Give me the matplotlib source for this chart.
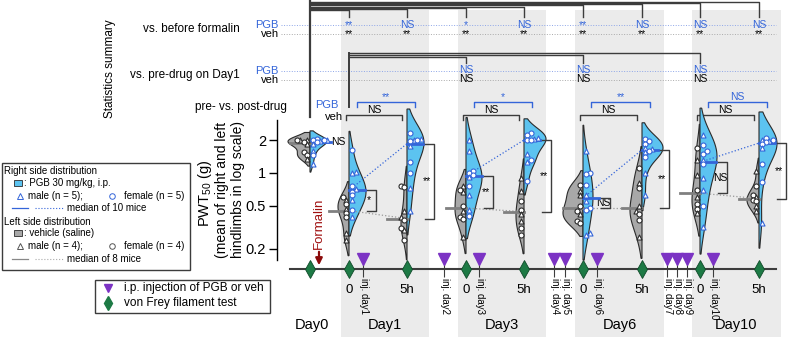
import matplotlib.pyplot as plt
from matplotlib.patches import Rectangle
import numpy as np

plt.rcParams['font.family'] = ['Liberation Sans', 'DejaVu Sans']
plt.rcParams['mathtext.default'] = 'regular'

# ---- data (PWT50 in g) ----
slots = ['Day0', 'Day1 0', 'Day1 5h', 'Day3 0', 'Day3 5h',
         'Day6 0', 'Day6 5h', 'Day10 0', 'Day10 5h']
time_labels = ['', '0', '5h', '0', '5h', '0', '5h', '0', '5h']
days = ['Day1', 'Day3', 'Day6', 'Day10']
day_pairs = [(1, 2), (3, 4), (5, 6), (7, 8)]

pgb = [
    [2.05, 2.0, 2.0, 2.0, 1.95, 1.9, 1.85, 1.6, 1.45, 1.2],
    [1.62, 1.02, 1.0, 0.76, 0.71, 0.67, 0.62, 0.56, 0.46, 0.39],
    [2.3, 2.05, 2.0, 2.0, 1.95, 1.75, 1.25, 1.0, 0.72, 0.45],
    [2.0, 1.6, 1.05, 1.0, 0.95, 0.92, 0.75, 0.62, 0.46, 0.4],
    [2.3, 2.2, 2.1, 2.05, 2.0, 2.0, 1.5, 1.3, 1.25, 0.85],
    [1.6, 1.0, 0.98, 0.78, 0.62, 0.55, 0.48, 0.46, 0.28, 0.27],
    [2.05, 1.95, 1.85, 1.7, 1.65, 1.6, 1.55, 1.4, 1.0, 0.63],
    [2.2, 1.8, 1.6, 1.5, 1.3, 1.2, 0.9, 0.7, 0.5, 0.32],
    [2.1, 2.0, 2.0, 1.95, 1.9, 1.85, 1.7, 1.2, 0.82, 0.35],
]
veh = [
    [2.0, 2.0, 2.0, 1.9, 1.85, 1.55, 1.45, 1.35],
    [0.6, 0.56, 0.52, 0.47, 0.43, 0.39, 0.28, 0.24],
    [0.76, 0.74, 0.45, 0.39, 0.37, 0.31, 0.30, 0.24],
    [0.75, 0.7, 0.66, 0.5, 0.45, 0.39, 0.38, 0.26],
    [0.9, 0.68, 0.55, 0.46, 0.42, 0.36, 0.31, 0.27],
    [0.78, 0.68, 0.62, 0.5, 0.45, 0.42, 0.36, 0.35],
    [1.1, 0.8, 0.72, 0.5, 0.45, 0.42, 0.37, 0.26],
    [1.7, 1.3, 0.95, 0.7, 0.6, 0.52, 0.47, 0.43],
    [1.05, 0.75, 0.62, 0.6, 0.56, 0.55, 0.5, 0.45],
]
# m = male (triangle), f = female (circle)
pgb_sex = ['fmffmfmmfm', 'fmmfmffmfm', 'fmmffmffmm', 'mmfffmfmmf', 'ffmmffmfmf',
           'mfffmmffmm', 'fffmmfmfmm', 'mfffmfmmfm', 'fmfmffmffm']
veh_sex = ['mfmfmffm', 'fmfmffmm', 'ffmmffmf', 'mfmfmffm', 'mmffmmff',
           'fmmffmff', 'fmfmmffm', 'fmmfmffm', 'mffmffmm']

diff_labels = ['NS', '*', '**', '**', '**', 'NS', '**', 'NS', '**']
formalin_pgb = ['**', 'NS', '*', 'NS', '**', 'NS', 'NS', 'NS']
formalin_veh = ['**', '**', '**', '**', '**', '**', '**', '**']
day1_slots = [3, 5, 7]
day1_pgb = ['NS', 'NS', 'NS']
day1_veh = ['NS', 'NS', 'NS']
prepost_pgb = ['**', '*', '**', 'NS']
prepost_veh = ['NS', 'NS', 'NS', 'NS']
inj_labels = ['inj. day1', 'inj. day2', 'inj. day3', 'inj. day4', 'inj. day5',
              'inj. day6', 'inj. day7', 'inj. day8', 'inj. day9', 'inj. day10']

# ---- layout (figure pixels) ----
slot_x = [310, 349, 407, 466, 524, 583, 642, 700, 759]
inj_x = [363, 444, 479, 554, 565, 597, 667, 677, 687, 713]
veh_w = [22, 11, 6, 11, 8, 20, 12, 8, 12]
pgb_w = [17, 17, 17, 16, 22, 10, 21, 17, 18]

BLUE_FILL = '#5CC3F0'
BLUE = '#3465D9'
GRAY_FILL = '#A8A8A8'
EDGE = '#2B2B2B'
BAND = '#EBEBEB'
PURPLE = '#7C33C4'
GREEN = '#1D7A45'
DARK = '#3C3C3C'


def half_violin(ax, x, vals, side, width, face):
    y = np.log10(vals)
    bw = y.std(ddof=1) * len(y) ** -0.2
    grid = np.linspace(y.min() - 1.5 * bw, y.max() + 1.5 * bw, 200)
    dens = np.exp(-0.5 * ((grid[:, None] - y) / bw) ** 2).sum(axis=1)
    xs = x + side * width * dens / dens.max()
    ax.fill(np.r_[x, xs, x], np.r_[grid[0], grid, grid[-1]], facecolor=face,
            edgecolor=EDGE, lw=0.8, zorder=2, clip_on=False)


def jitter(logv, side):
    off = np.zeros(len(logv))
    done = []
    for j in np.argsort(logv):
        k = 0
        while any(abs(logv[j] - logv[p]) < 0.03 and off[p] == side * (3 + 3.5 * k) for p in done):
            k += 1
        off[j] = side * (3 + 3.5 * k)
        done.append(j)
    return off


def main():
    fig = plt.figure(figsize=(7.88, 3.37), dpi=100)
    bg = fig.add_axes([0, 0, 1, 1])
    bg.set_xlim(0, 788)
    bg.set_ylim(337, 0)
    bg.axis('off')

    # day bands
    centers = []
    for i0, i1 in day_pairs:
        left, right = slot_x[i0] - 8, slot_x[i1] + 22
        bg.add_patch(Rectangle((left, 10), right - left, 330, color=BAND, lw=0, zorder=0))
        centers.append((left + right) / 2)

    # ---- statistics summary ----
    bg.text(110, 69, 'Statistics summary', rotation=90, ha='center', va='center', fontsize=8.5)
    for y, lab in [(29, 'vs. before formalin'), (75, 'vs. pre-drug on Day1')]:
        bg.text(240, y, lab, ha='right', va='center', fontsize=8.5)
        bg.text(279, y - 4, 'PGB', ha='right', va='center', fontsize=8, color=BLUE)
        bg.text(279, y + 5, 'veh', ha='right', va='center', fontsize=8)
        bg.plot([281, 776], [y - 4, y - 4], ls=':', lw=0.7, color='#8EA6E8', zorder=1)
        bg.plot([281, 776], [y + 5, y + 5], ls=':', lw=0.7, color='#AAAAAA', zorder=1)
    bg.text(287, 107, 'pre- vs. post-drug', ha='right', va='center', fontsize=8.5)
    bg.text(327, 105, 'PGB', ha='center', va='center', fontsize=8, color=BLUE)
    bg.text(343, 117, 'veh', ha='right', va='center', fontsize=8)

    for k, x in enumerate(slot_x[1:]):
        bg.text(x, 25, formalin_pgb[k], ha='center', va='center', fontsize=7.5, color=BLUE)
        bg.text(x, 34, formalin_veh[k], ha='center', va='center', fontsize=7.5)
        lev = 10 - k * 1.15
        bg.plot([slot_x[0], x, x], [lev, lev, 17], color=DARK, lw=1)
    bg.plot([slot_x[0], slot_x[0]], [0, 117], color=DARK, lw=1.6)

    for k, i in enumerate(day1_slots):
        x = slot_x[i]
        bg.text(x, 70, day1_pgb[k], ha='center', va='center', fontsize=7.5, color=BLUE)
        bg.text(x, 79, day1_veh[k], ha='center', va='center', fontsize=7.5)
        lev = 57 - k * 2
        bg.plot([slot_x[1], x, x], [lev, lev, 63], color=DARK, lw=1)
    bg.plot([slot_x[1], slot_x[1]], [53, 107], color=DARK, lw=1.4)

    for k, (i0, i1) in enumerate(day_pairs):
        x0, x1 = slot_x[i0], slot_x[i1]
        bg.plot([x0 + 8, x0 + 8, x1 + 8, x1 + 8], [107, 102, 102, 107], color=BLUE, lw=1)
        bg.text((x0 + x1) / 2 + 8, 97, prepost_pgb[k], ha='center', va='center', fontsize=7.5, color=BLUE)
        bg.plot([x0 - 3, x0 - 3, x1 - 5, x1 - 5], [120, 115, 115, 120], color=DARK, lw=1)
        bg.text((x0 + x1) / 2 - 4, 110, prepost_veh[k], ha='center', va='center', fontsize=7.5)

    # ---- timeline ----
    bg.plot([290, 776], [269, 269], color=DARK, lw=1.5, zorder=1)
    bg.vlines(inj_x, 262, 277, color=DARK, lw=0.8)
    bg.plot(inj_x, [259] * len(inj_x), 'v', ms=8, color=PURPLE, mec=PURPLE)
    bg.plot(slot_x, [269] * len(slot_x), 'd', ms=9, color=GREEN, mec='#0F4A29', mew=0.6)
    for x, lab in zip(inj_x, inj_labels):
        bg.text(x + 1, 278, lab, rotation=270, ha='center', va='top', fontsize=7)
    for x, lab in zip(slot_x, time_labels):
        bg.text(x, 290, lab, ha='center', va='center', fontsize=9.5)
    bg.text(slot_x[0] + 2, 325, 'Day0', ha='center', va='center', fontsize=10.5)
    for c, d in zip(centers, days):
        bg.text(c, 325, d, ha='center', va='center', fontsize=10.5)
    bg.annotate('', xy=(319, 268), xytext=(319, 249),
                arrowprops=dict(arrowstyle='-|>', color='#8B0A0A', lw=1.6, mutation_scale=10))
    bg.text(319, 223, 'Formalin', rotation=90, ha='center', va='center', fontsize=9.5, color='#A01010')

    # ---- y label ----
    bg.text(205, 193, 'PWT$_{50}$ (g)', rotation=90, ha='center', va='center', fontsize=10.5)
    bg.text(222, 190, '(mean of right and left', rotation=90, ha='center', va='center', fontsize=10)
    bg.text(238, 190, 'hindlimbs in log scale)', rotation=90, ha='center', va='center', fontsize=10)

    # ---- legends ----
    bg.add_patch(Rectangle((2, 163), 188, 107, fill=False, ec=DARK, lw=1))
    bg.text(4, 171, 'Right side distribution', va='center', fontsize=7)
    bg.add_patch(Rectangle((14, 180), 8, 6, fc=BLUE_FILL, ec=EDGE, lw=0.6))
    bg.text(24, 183, ': PGB 30 mg/kg, i.p.', va='center', fontsize=7)
    bg.plot([20], [196], '^', ms=4, mfc='white', mec=BLUE, mew=0.7)
    bg.text(28, 196, 'male (n = 5);', va='center', fontsize=7)
    bg.plot([112], [196], 'o', ms=4, mfc='white', mec=BLUE, mew=0.7)
    bg.text(124, 196, 'female (n = 5)', va='center', fontsize=7)
    bg.plot([12, 28], [208, 208], color=BLUE, lw=0.9)
    bg.plot([35, 63], [208, 208], ls=':', color=BLUE, lw=0.8)
    bg.text(67, 208, 'median of 10 mice', va='center', fontsize=7)
    bg.text(4, 222, 'Left side distribution', va='center', fontsize=7)
    bg.add_patch(Rectangle((14, 230), 8, 6, fc=GRAY_FILL, ec=EDGE, lw=0.6))
    bg.text(24, 233, ': vehicle (saline)', va='center', fontsize=7)
    bg.plot([20], [246], '^', ms=4, mfc='white', mec='#555555', mew=0.7)
    bg.text(28, 246, 'male (n = 4);', va='center', fontsize=7)
    bg.plot([112], [246], 'o', ms=4, mfc='white', mec='#555555', mew=0.7)
    bg.text(124, 246, 'female (n = 4)', va='center', fontsize=7)
    bg.plot([12, 28], [259, 259], color='#888888', lw=0.9)
    bg.plot([35, 63], [259, 259], ls=':', color='#AAAAAA', lw=0.8)
    bg.text(67, 259, 'median of 8 mice', va='center', fontsize=7)

    bg.add_patch(Rectangle((95, 280), 175, 33, fill=False, ec=DARK, lw=1))
    bg.plot([108], [288], 'v', ms=6, color=PURPLE)
    bg.plot([108], [303], 'd', ms=7, color=GREEN)
    bg.text(124, 288, 'i.p. injection of PGB or veh', va='center', fontsize=8.5)
    bg.text(124, 303, 'von Frey filament test', va='center', fontsize=8.5)

    # ---- violins ----
    ax = fig.add_axes([277 / 788, 77 / 337, 511 / 788, 140 / 337])
    ax.set_facecolor('none')
    ax.set_xlim(277, 788)
    ax.set_ylim(np.log10(2) - 120 / 109, np.log10(2) + 20 / 109)
    for s in ['top', 'right', 'bottom']:
        ax.spines[s].set_visible(False)
    ax.spines['left'].set_linewidth(1)
    ticks = [0.2, 0.5, 1, 2]
    ax.set_yticks(np.log10(ticks))
    ax.set_yticklabels(['0.2', '0.5', '1', '2'])
    ax.tick_params(axis='y', length=6, width=1, labelsize=10.5, pad=2)
    ax.set_xticks([])

    med_p, med_v = [], []
    for i, x in enumerate(slot_x):
        half_violin(ax, x, veh[i], -1, veh_w[i], GRAY_FILL)
        half_violin(ax, x, pgb[i], 1, pgb_w[i], BLUE_FILL)
        for vals, sex, side, ec in [(veh[i], veh_sex[i], -1, EDGE), (pgb[i], pgb_sex[i], 1, BLUE)]:
            lv = np.log10(vals)
            off = jitter(lv, side)
            for v, o, s in zip(lv, off, sex):
                ax.scatter(x + o, v, s=13, marker='^' if s == 'm' else 'o',
                           facecolor='white', edgecolor=ec, lw=0.8, zorder=5, clip_on=False)
        mp, mv = np.log10(np.median(pgb[i])), np.log10(np.median(veh[i]))
        med_p.append(mp)
        med_v.append(mv)
        if i == 0:
            ax.plot([x, x + 21], [mp, mp], color=BLUE, lw=2, zorder=4)
            ax.plot([x - 20, x], [mv, mv], color='#808080', lw=2, zorder=4)
            ax.text(x + 21, mp, diff_labels[i], ha='left', va='center', fontsize=7.5)
        else:
            ax.plot([x, x + 16], [mp, mp], color=BLUE, lw=2, zorder=4)
            ax.plot([x - 20, x], [mv, mv], color='#808080', lw=2, zorder=4)
            xb = x + 27
            ax.plot([xb - 9, xb, xb, xb - 9], [mp, mp, mv, mv], color=DARK, lw=1, zorder=4)
            ax.text(x + 20, (mp + mv) / 2, diff_labels[i], ha='center', va='center', fontsize=7.5)

    for i0, i1 in day_pairs:
        ax.plot([slot_x[i0], slot_x[i1]], [med_p[i0], med_p[i1]], ls=':', color=BLUE, lw=0.9, zorder=3)
        ax.plot([slot_x[i0], slot_x[i1]], [med_v[i0], med_v[i1]], ls=':', color='#999999', lw=0.9, zorder=3)

    plt.savefig('out.png')


if __name__ == "__main__":
    main()
